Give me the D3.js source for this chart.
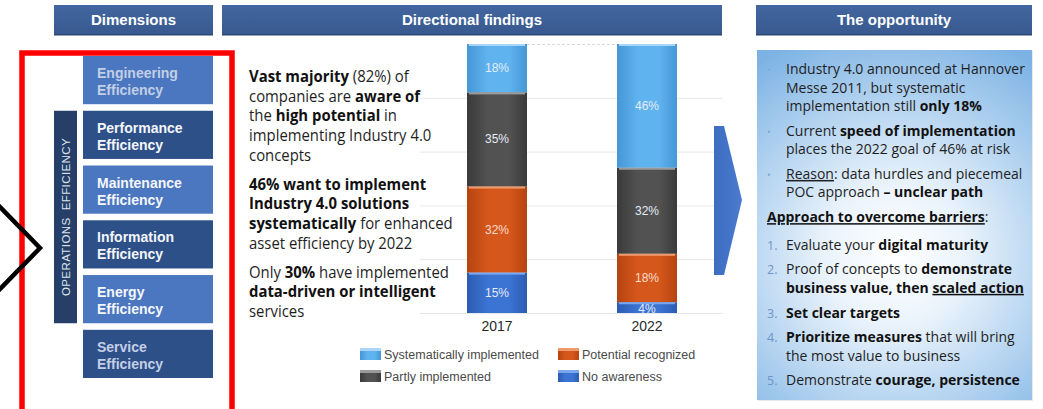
<!DOCTYPE html>
<html>
<head>
<meta charset="utf-8">
<script src="https://cdn.jsdelivr.net/npm/d3@7"></script>
<style>
  body { margin: 0; background: #fff; }
  svg { display: block; }
</style>
</head>
<body>
<svg id="chart" width="1043" height="409"></svg>
<script>
// ---- data ----
const years = ["2017", "2022"];
const stackKeys = ["No awareness", "Potential recognized", "Partly implemented", "Systematically implemented"];
const noAwareness = [15, 4];
const potentialRecognized = [32, 18];
const partlyImplemented = [35, 32];
const systematicallyImplemented = [18, 46];
const gridTicks = [0, 20, 40, 60, 80, 100];
const legendOrder = ["Systematically implemented", "Potential recognized", "Partly implemented", "No awareness"];

const headers = ["Dimensions", "Directional findings", "The opportunity"];
const dimensions = ["Engineering Efficiency", "Performance Efficiency", "Maintenance Efficiency",
                    "Information Efficiency", "Energy Efficiency", "Service Efficiency"];

// text blocks, segments are [text, style] with style b = bold, u = underline
const findings = [
  [ [["Vast majority", "b"], [" (82%) of", ""]],
    [["companies are ", ""], ["aware of", "b"]],
    [["the ", ""], ["high potential", "b"], [" in", ""]],
    [["implementing Industry 4.0", ""]],
    [["concepts", ""]] ],
  [ [["46% want to implement", "b"]],
    [["Industry 4.0 solutions", "b"]],
    [["systematically", "b"], [" for enhanced", ""]],
    [["asset efficiency by 2022", ""]] ],
  [ [["Only ", ""], ["30%", "b"], [" have implemented", ""]],
    [["data-driven or intelligent", "b"]],
    [["services", ""]] ]
];

const opportunity = [
  { mark: "•", lines: [ [["Industry 4.0 announced at Hannover", ""]],
                        [["Messe 2011, but systematic", ""]],
                        [["implementation still ", ""], ["only 18%", "b"]] ] },
  { mark: "•", lines: [ [["Current ", ""], ["speed of implementation", "b"]],
                        [["places the 2022 goal of 46% at risk", ""]] ] },
  { mark: "•", lines: [ [["Reason", "u"], [": data hurdles and piecemeal", ""]],
                        [["POC approach ", ""], ["– unclear path", "b"]] ] },
  { mark: null, lines: [ [["Approach to overcome barriers", "bu"], [":", ""]] ] },
  { mark: "1.", lines: [ [["Evaluate your ", ""], ["digital maturity", "b"]] ] },
  { mark: "2.", lines: [ [["Proof of concepts to ", ""], ["demonstrate", "b"]],
                         [["business value, then ", "b"], ["scaled action", "bu"]] ] },
  { mark: "3.", lines: [ [["Set clear targets", "b"]] ] },
  { mark: "4.", lines: [ [["Prioritize measures", "b"], [" that will bring", ""]],
                         [["the most value to business", ""]] ] },
  { mark: "5.", lines: [ [["Demonstrate ", ""], ["courage, persistence", "b"]] ] }
];

const colors = {
  "No awareness":               { base: "#3c74d4", dark: "#2b5cb2", top: "#7aa6ee" },
  "Potential recognized":       { base: "#d6571c", dark: "#b54410", top: "#ef9a6a" },
  "Partly implemented":         { base: "#525252", dark: "#3a3a3a", top: "#9a9a9a" },
  "Systematically implemented": { base: "#5fb3ee", dark: "#4597d6", top: "#a9d6f7" }
};

const svg = d3.select("#chart");
const defs = svg.append("defs");

// gradients for bar segments (gives the slightly rounded 3d look)
stackKeys.forEach((k, i) => {
  const g = defs.append("linearGradient").attr("id", "bar" + i)
    .attr("x1", 0).attr("x2", 1).attr("y1", 0).attr("y2", 0);
  g.append("stop").attr("offset", 0).attr("stop-color", colors[k].dark);
  g.append("stop").attr("offset", 0.35).attr("stop-color", colors[k].base);
  g.append("stop").attr("offset", 0.7).attr("stop-color", colors[k].base);
  g.append("stop").attr("offset", 1).attr("stop-color", colors[k].dark);
});

const panelGrad = defs.append("radialGradient").attr("id", "panel")
  .attr("gradientUnits", "userSpaceOnUse")
  .attr("cx", 895).attr("cy", 255).attr("r", 235);
panelGrad.append("stop").attr("offset", 0).attr("stop-color", "#ffffff");
panelGrad.append("stop").attr("offset", 0.3).attr("stop-color", "#eaf3fc");
panelGrad.append("stop").attr("offset", 1).attr("stop-color", "#7db3e4");

const headGrad = defs.append("linearGradient").attr("id", "head")
  .attr("x1", 0).attr("x2", 0).attr("y1", 0).attr("y2", 1);
headGrad.append("stop").attr("offset", 0).attr("stop-color", "#4266a0");
headGrad.append("stop").attr("offset", 1).attr("stop-color", "#38598f");

const arrowGrad = defs.append("linearGradient").attr("id", "arrow")
  .attr("x1", 0).attr("x2", 1).attr("y1", 0).attr("y2", 0);
arrowGrad.append("stop").attr("offset", 0).attr("stop-color", "#3d6cc0");
arrowGrad.append("stop").attr("offset", 1).attr("stop-color", "#4a7bcf");

// ---- header bars ----
const headerBox = [[54, 159], [222, 500], [756, 276]];
headers.forEach((h, i) => {
  const [x, w] = headerBox[i];
  svg.append("rect").attr("x", x).attr("y", 5).attr("width", w).attr("height", 30)
    .attr("fill", "url(#head)");
  svg.append("rect").attr("x", x).attr("y", 34).attr("width", w).attr("height", 1.5)
    .attr("fill", "#2c4673");
  svg.append("text").attr("x", x + w / 2).attr("y", 25)
    .attr("text-anchor", "middle")
    .attr("font-family", "Liberation Sans, Arial, sans-serif")
    .attr("font-weight", "bold").attr("font-size", 15)
    .attr("fill", "#fff").text(h);
});

// ---- dimensions column ----
const yDim = d3.scaleBand().domain(dimensions).range([56, 378]).paddingInner(0.12);

svg.append("rect").attr("x", 54).attr("y", yDim(dimensions[1]))
  .attr("width", 23)
  .attr("height", yDim(dimensions[4]) + yDim.bandwidth() - yDim(dimensions[1]))
  .attr("fill", "#263f68");
svg.append("text")
  .attr("transform", `translate(66,${(yDim(dimensions[1]) + yDim(dimensions[4]) + yDim.bandwidth()) / 2}) rotate(-90)`)
  .attr("text-anchor", "middle").attr("dominant-baseline", "central")
  .attr("font-family", "Liberation Sans, Arial, sans-serif")
  .attr("font-size", 11.5).attr("letter-spacing", 0.4)
  .attr("fill", "#dde4ee").attr("xml:space", "preserve")
  .text("OPERATIONS  EFFICIENCY");

const dimG = svg.append("g").selectAll("g").data(dimensions).join("g")
  .attr("transform", d => `translate(83,${yDim(d)})`);
dimG.append("rect").attr("width", 130).attr("height", yDim.bandwidth())
  .attr("fill", (d, i) => i % 2 === 0 ? "#4a77c0" : "#2e5089");
dimG.append("text")
  .attr("x", 14)
  .attr("font-family", "Liberation Sans, Arial, sans-serif")
  .attr("font-weight", "bold").attr("font-size", 14)
  .attr("fill", (d, i) => (i === 0 || i === dimensions.length - 1) ? "#c3cfe6" : "#f4f6fa")
  .selectAll("tspan").data(d => d.split(" ")).join("tspan")
  .attr("x", 14)
  .attr("y", (d, i) => yDim.bandwidth() / 2 - 2 + i * 17)
  .text(d => d);

// red frame and black chevron
svg.append("rect").attr("x", 22).attr("y", 53).attr("width", 210).attr("height", 380)
  .attr("fill", "none").attr("stroke", "#ff0000").attr("stroke-width", 5.5);
svg.append("polyline").attr("points", "-2,205 40,248 -2,291")
  .attr("fill", "none").attr("stroke", "#000").attr("stroke-width", 4.5);

// ---- rich text helper ----
function richLine(parent, x, y, segs, size) {
  const t = parent.append("text")
    .attr("transform", `translate(${x},${y})`)
    .attr("font-family", "Open Sans, sans-serif")
    .attr("font-size", size).attr("fill", "#1e1e1e")
    .attr("xml:space", "preserve");
  segs.forEach(([s, st]) => {
    t.append("tspan").text(s)
      .attr("font-weight", st.includes("b") ? "bold" : null)
      .attr("text-decoration", st.includes("u") ? "underline" : null)
      .attr("fill", st.includes("b") ? "#111" : null);
  });
  return t;
}
function squeeze(nodes, refNode, target) {
  const s = target / refNode.node().getComputedTextLength();
  nodes.forEach(n => {
    n.attr("transform", n.attr("transform") + ` scale(${s},1)`);
  });
}

// ---- directional findings text ----
const leftG = svg.append("g");
const leftNodes = [];
let ly = 82, refLeft = null;
findings.forEach((para, pi) => {
  para.forEach((segs) => {
    const n = richLine(leftG, 249, ly, segs, 15.5);
    leftNodes.push(n);
    if (segs[0][0] === "Only ") refLeft = n;
    ly += 19.7;
  });
  ly += 9.2;
});
squeeze(leftNodes, refLeft, 200);

// ---- stacked bars ----
const table = years.map((yr, i) => ({
  year: yr,
  "No awareness": noAwareness[i],
  "Potential recognized": potentialRecognized[i],
  "Partly implemented": partlyImplemented[i],
  "Systematically implemented": systematicallyImplemented[i]
}));
const series = d3.stack().keys(stackKeys)(table);

const x = d3.scalePoint().domain(years).range([422, 722]).padding(0.5);
const y = d3.scaleLinear().domain([0, 100]).range([313, 44]);
const barW = 60;

svg.append("g").selectAll("line").data(gridTicks).join("line")
  .attr("x1", d => d === 100 ? 527 : 420).attr("x2", d => d === 100 ? 617 : 723)
  .attr("y1", d => y(d) + 0.5).attr("y2", d => y(d) + 0.5)
  .attr("stroke", d => d === 100 ? "#d8d8d8" : "#e8e8e8")
  .attr("stroke-dasharray", d => d === 100 ? "3,2" : null);

const layer = svg.append("g").selectAll("g").data(series).join("g")
  .attr("fill", (d, i) => `url(#bar${i})`);
layer.selectAll("rect").data(d => d).join("rect")
  .attr("x", d => x(d.data.year) - barW / 2)
  .attr("y", d => y(d[1]))
  .attr("width", barW)
  .attr("height", d => y(d[0]) - y(d[1]));
// thin highlight at the top of every segment
svg.append("g").selectAll("g").data(series).join("g")
  .attr("fill", d => colors[d.key].top)
  .selectAll("rect").data(d => d).join("rect")
  .attr("x", d => x(d.data.year) - barW / 2 + 2)
  .attr("y", d => y(d[1]))
  .attr("width", barW - 4)
  .attr("height", 2);

svg.append("g").selectAll("g").data(series).join("g")
  .selectAll("text").data(d => d.map(v => ({ v, key: d.key }))).join("text")
  .attr("x", d => x(d.v.data.year))
  .attr("y", d => (y(d.v[0]) + y(d.v[1])) / 2 + (d.v[1] - d.v[0] < 6 ? 1 : 0))
  .attr("text-anchor", "middle").attr("dominant-baseline", "central")
  .attr("font-family", "Liberation Sans, Arial, sans-serif")
  .attr("font-size", 12)
  .attr("fill", d => d.key === "Potential recognized" ? "#f8dccb" : "#e4ecf8")
  .text(d => (d.v[1] - d.v[0]) + "%");

svg.append("g").selectAll("text").data(years).join("text")
  .attr("x", d => x(d)).attr("y", 331)
  .attr("text-anchor", "middle")
  .attr("font-family", "Liberation Sans, Arial, sans-serif")
  .attr("font-size", 14).attr("fill", "#2a2a2a")
  .text(d => d);

// legend
const legG = svg.append("g").selectAll("g").data(legendOrder).join("g")
  .attr("transform", (d, i) => `translate(${i % 2 === 0 ? 360 : 558},${i < 2 ? 348 : 370})`);
legG.append("rect").attr("width", 21).attr("height", 12)
  .attr("fill", d => `url(#bar${stackKeys.indexOf(d)})`);
legG.append("rect").attr("width", 21).attr("height", 3)
  .attr("fill", d => colors[d].top);
legG.append("text").attr("x", 24).attr("y", 10.5)
  .attr("font-family", "Liberation Sans, Arial, sans-serif")
  .attr("font-size", 12.5).attr("fill", "#4a4a4a")
  .text(d => d);

// big arrow
svg.append("polygon")
  .attr("points", "714,126 724,126 742,200 724,275 714,275")
  .attr("fill", "url(#arrow)");

// ---- the opportunity panel ----
svg.append("rect").attr("x", 758).attr("y", 51).attr("width", 275).attr("height", 350)
  .attr("fill", "#e6ebf0");
svg.append("rect").attr("x", 757).attr("y", 50).attr("width", 275).attr("height", 350)
  .attr("fill", "url(#panel)");

const rightG = svg.append("g");
const rightNodes = [];
let ry = 74, refRight = null;
opportunity.forEach((item, ii) => {
  if (item.mark) {
    rightG.append("text").attr("x", 767).attr("y", ry)
      .attr("font-family", "Open Sans, sans-serif")
      .attr("font-size", item.mark === "•" ? 10 : 12.5)
      .attr("fill", item.mark === "•" ? "#7fa8d8" : "#6e93cc")
      .text(item.mark);
  }
  item.lines.forEach((segs) => {
    const n = richLine(rightG, item.mark ? 786 : 767, ry, segs, 15);
    rightNodes.push(n);
    if (ii === 0 && !refRight) refRight = n;
    ry += 18.5;
  });
  ry += item.mark ? 6.2 : 9;
});
squeeze(rightNodes, refRight, 239);
</script>
</body>
</html>
